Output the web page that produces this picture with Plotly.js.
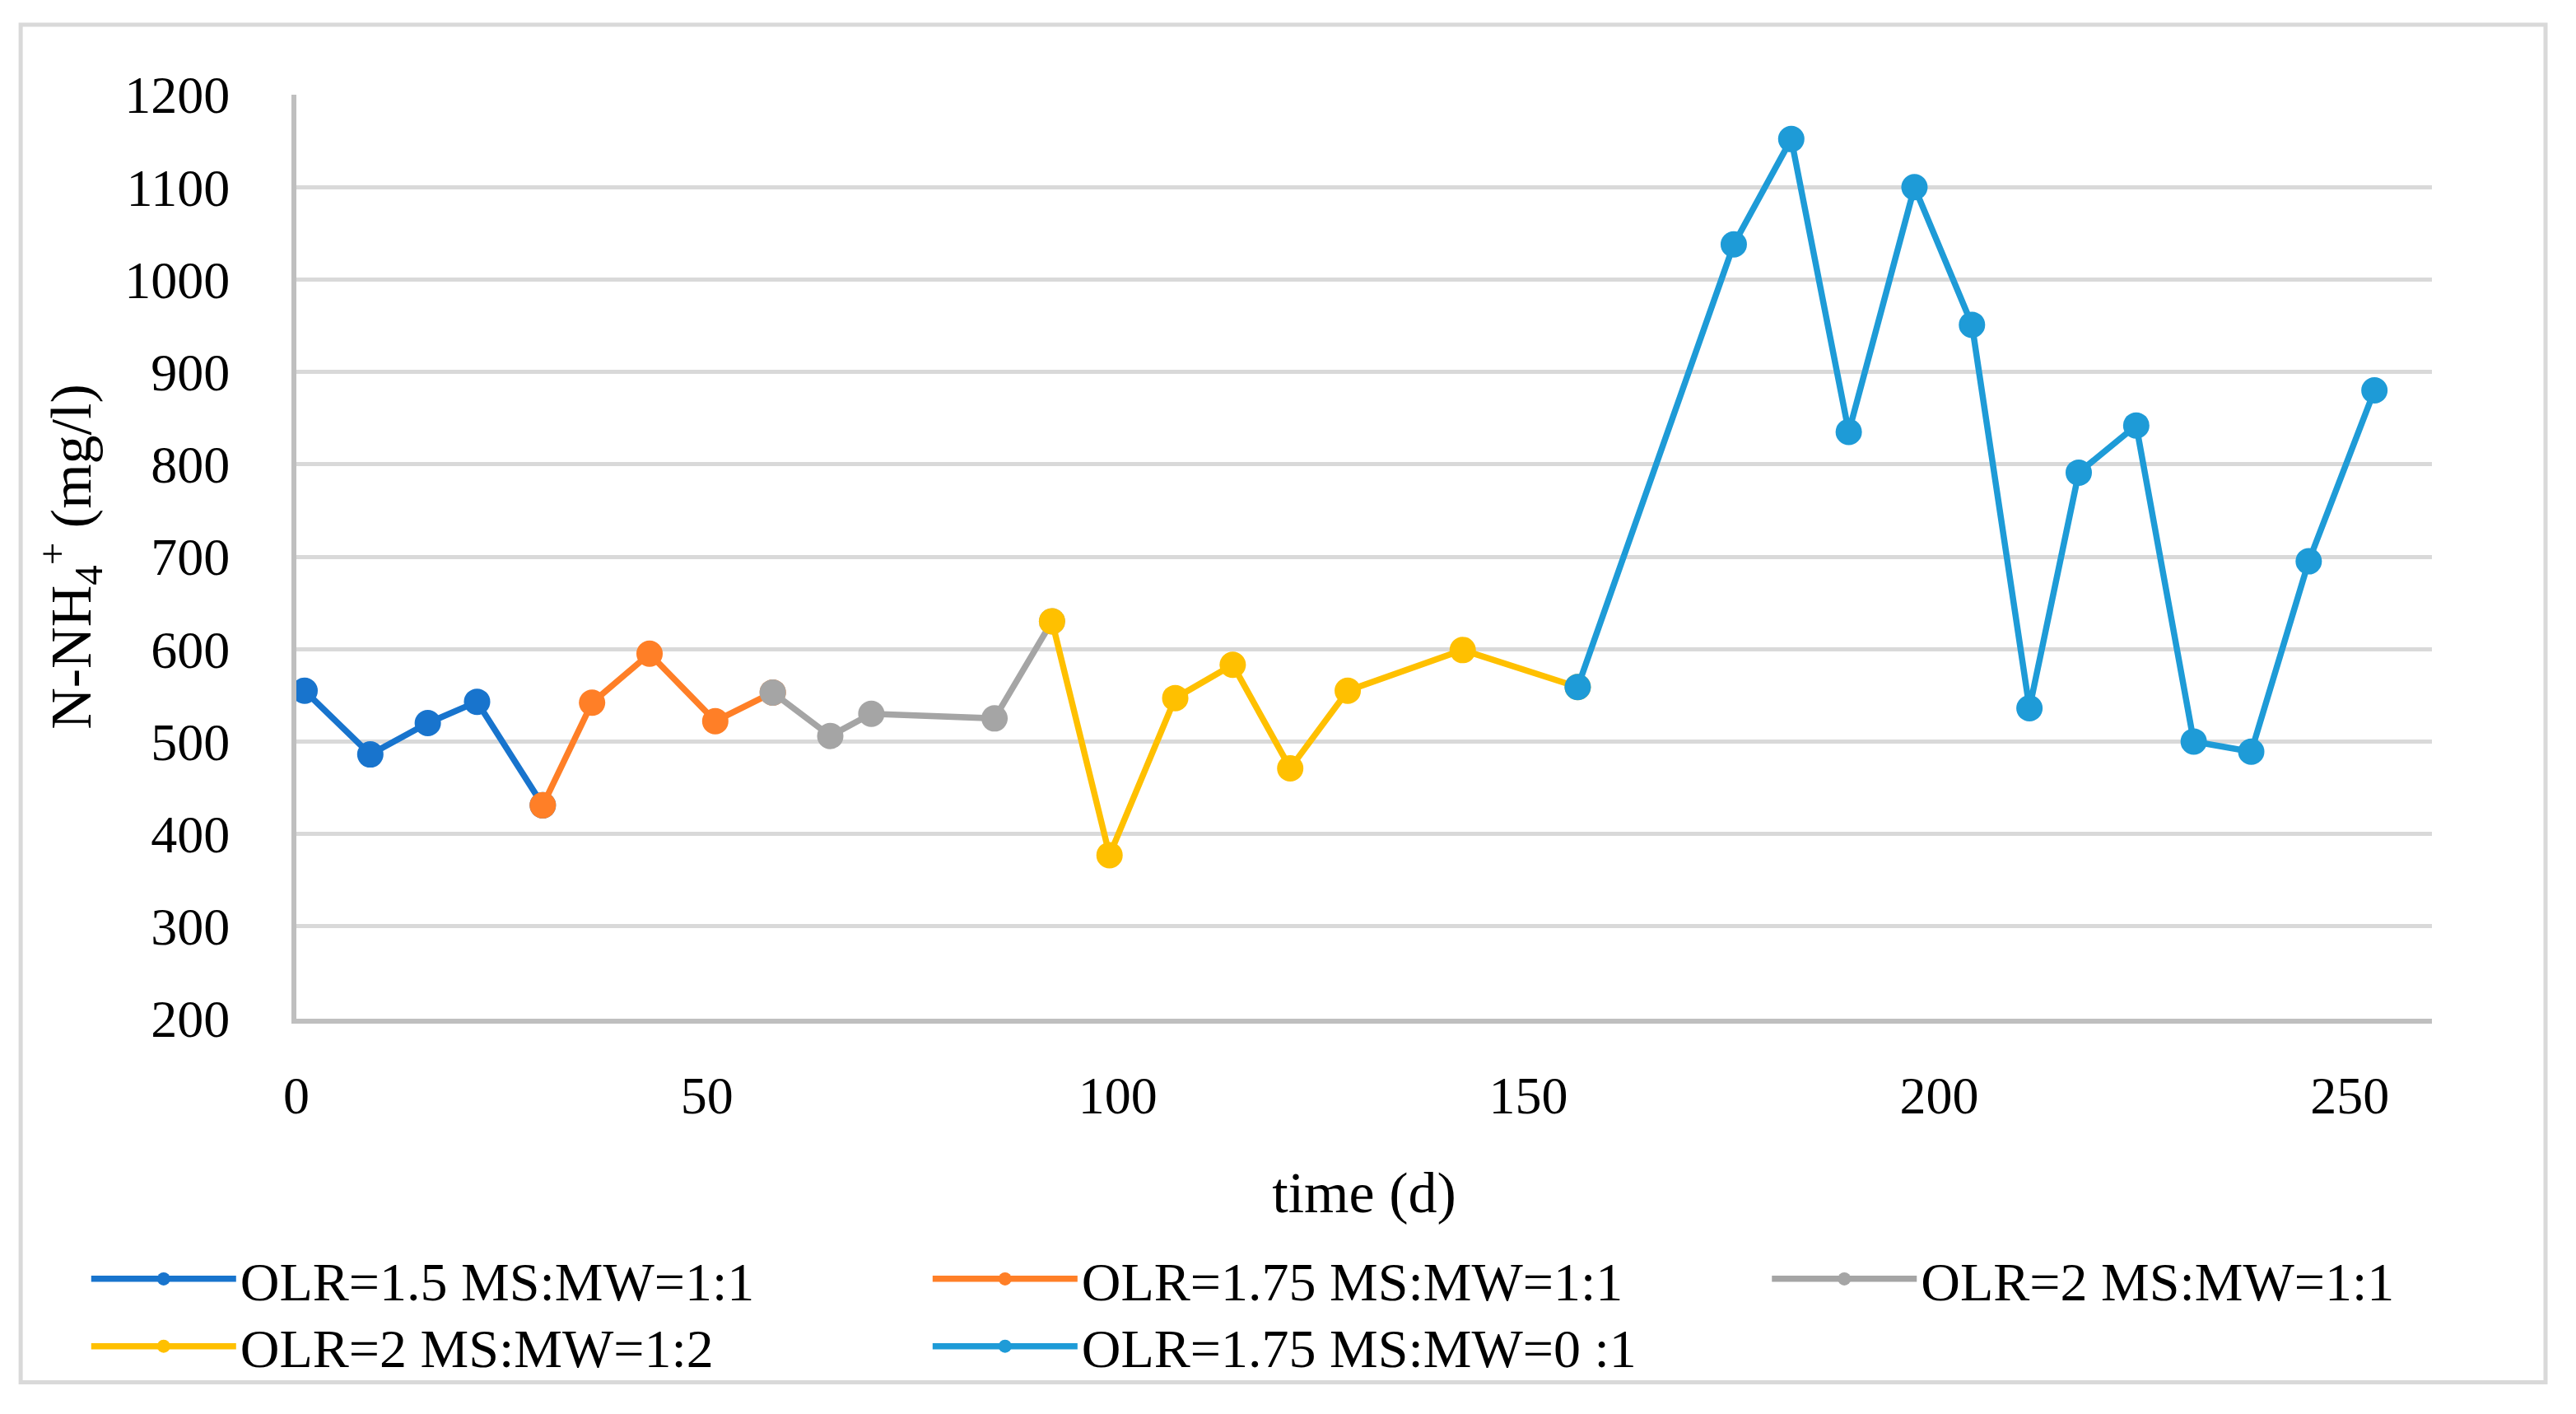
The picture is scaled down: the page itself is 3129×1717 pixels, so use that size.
<!DOCTYPE html>
<html>
<head>
<meta charset="utf-8">
<script src="https://cdn.plot.ly/plotly-3.0.1.min.js"></script>
<style>html,body{margin:0;padding:0;background:#fff;}#chart{width:3129px;height:1717px;}</style>
</head>
<body>
<div id="chart"></div>
<script>
// ---- data ----
const seriesNames = [
  "OLR=1.5 MS:MW=1:1",
  "OLR=1.75 MS:MW=1:1",
  "OLR=2 MS:MW=1:1",
  "OLR=2 MS:MW=1:2",
  "OLR=1.75 MS:MW=0 :1"
];
const days1 = [1, 9, 16, 22, 30];
const nh4_1 = [555, 486, 520, 543, 431];
const days2 = [30, 36, 43, 51, 58];
const nh4_2 = [431, 542, 595, 522, 553];
const days3 = [58, 65, 70, 85, 92];
const nh4_3 = [553, 506, 530, 525, 630];
const days4 = [92, 99, 107, 114, 121, 128, 142, 156];
const nh4_4 = [630, 377, 547, 583, 471, 555, 599, 559];
const days5 = [156, 175, 182, 189, 197, 204, 211, 217, 224, 231, 238, 245, 253];
const nh4_5 = [559, 1038, 1152, 835, 1100, 951, 536, 791, 842, 500, 489, 695, 880];
const xTickVals = [0, 50, 100, 150, 200, 250];
const yTickVals = [200, 300, 400, 500, 600, 700, 800, 900, 1000, 1100, 1200];

const colors = ["#1874CD", "#FF7F27", "#A5A5A5", "#FFC000", "#1E9BD7"];
const legendIds = ["legend", "legend2", "legend3", "legend4", "legend5"];
const xs = [days1, days2, days3, days4, days5];
const ys = [nh4_1, nh4_2, nh4_3, nh4_4, nh4_5];

const FONT = "Liberation Serif, Times New Roman, serif";

const traces = xs.map((x, i) => ({
  type: "scatter",
  mode: "lines+markers",
  name: seriesNames[i],
  x: x,
  y: ys[i],
  legend: legendIds[i],
  line: {color: colors[i], width: 7.5},
  marker: {color: colors[i], size: 32},
  hoverinfo: "x+y"
}));

function legendAt(x, y) {
  return {
    orientation: "v",
    yanchor: "top",
    xanchor: "left",
    x: x,
    y: y,
    bgcolor: "rgba(0,0,0,0)",
    borderwidth: 0,
    itemwidth: 176,
    font: {family: FONT, size: 66, color: "#000"}
  };
}

const row1 = -0.2375, row2 = -0.3104;
const col1 = -0.098, col2 = 0.296, col3 = 0.689;

const layout = {
  width: 3129,
  height: 1717,
  paper_bgcolor: "#fff",
  plot_bgcolor: "#fff",
  margin: {l: 360, r: 175, t: 115, b: 480},
  font: {family: FONT, size: 64, color: "#000"},
  showlegend: true,
  legend: legendAt(col1, row1),
  legend2: legendAt(col2, row1),
  legend3: legendAt(col3, row1),
  legend4: legendAt(col1, row2),
  legend5: legendAt(col2, row2),
  xaxis: {
    range: [0, 260],
    tickvals: xTickVals,
    ticks: "",
    showgrid: false,
    zeroline: false,
    showline: true,
    linecolor: "#BFBFBF",
    linewidth: 6,
    ticklabelstandoff: 32,
    tickfont: {family: FONT, size: 64, color: "#000"},
    title: {text: "time (d)", font: {family: FONT, size: 70, color: "#000"}, standoff: 60}
  },
  yaxis: {
    range: [200, 1200],
    tickvals: yTickVals,
    ticks: "",
    showgrid: true,
    gridcolor: "#D9D9D9",
    gridwidth: 5,
    zeroline: false,
    showline: true,
    linecolor: "#BFBFBF",
    linewidth: 6,
    ticklabelstandoff: 62,
    tickfont: {family: FONT, size: 64, color: "#000"},
    title: {text: "N-NH<sub>4</sub><sup>+</sup> (mg/l)", font: {family: FONT, size: 70, color: "#000"}, standoff: 20}
  },
  shapes: [{
    type: "rect", xref: "paper", yref: "paper",
    x0: -0.1291, x1: 1.0532, y0: -0.3934, y1: 1.0758,
    line: {color: "#D9D9D9", width: 5},
    fillcolor: "rgba(0,0,0,0)",
    layer: "below"
  }]
};

Plotly.newPlot("chart", traces, layout, {displayModeBar: false, staticPlot: true});
</script>
</body>
</html>
